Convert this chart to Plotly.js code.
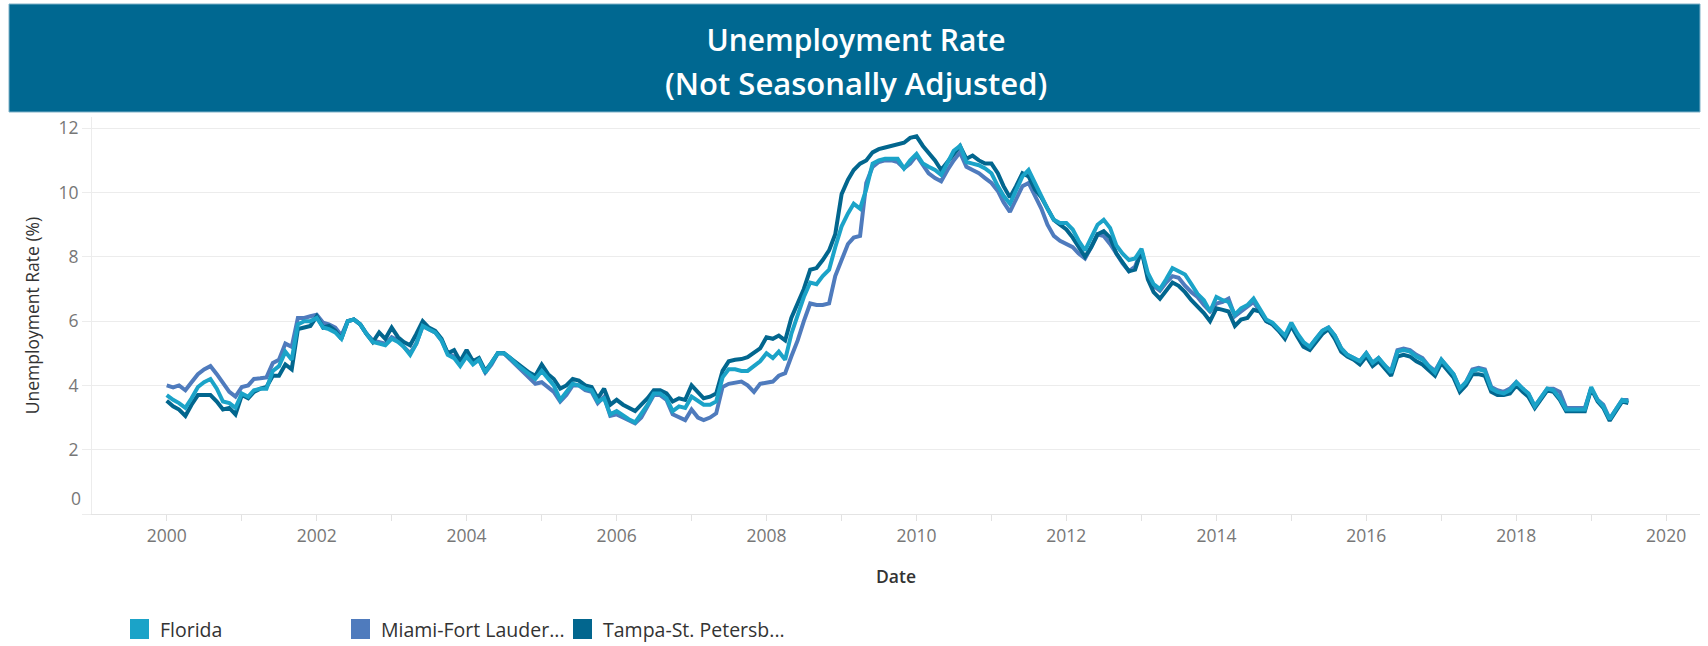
<!DOCTYPE html>
<html>
<head>
<meta charset="utf-8">
<script src="https://cdn.plot.ly/plotly-3.0.1.min.js"></script>
<style>
  html, body { margin: 0; padding: 0; background: #ffffff; }
  #chart { width: 1708px; height: 646px; }
</style>
</head>
<body>
<div id="chart"></div>
<script>
// ---------------- DATA ----------------
const startYear = 2000;
const monthCount = 235; // Jan 2000 .. Jul 2019

const seriesNames = ["Florida", "Miami-Fort Lauderdale-West Palm Beach", "Tampa-St. Petersburg-Clearwater"];
const legendLabels = ["Florida", "Miami-Fort Lauder...", "Tampa-St. Petersb..."];

const florida = [
  3.7, 3.55, 3.45, 3.3, 3.6, 3.95, 4.1, 4.2, 3.9, 3.5, 3.45, 3.3,
  3.75, 3.65, 3.85, 3.9, 3.9, 4.45, 4.6, 5.05, 4.8, 5.9, 6.0, 6.0,
  6.1, 5.8, 5.75, 5.65, 5.45, 6.0, 6.05, 5.9, 5.6, 5.35, 5.3, 5.25,
  5.45, 5.35, 5.2, 4.95, 5.3, 5.85, 5.75, 5.65, 5.4, 4.95, 4.85, 4.6,
  4.9, 4.65, 4.8, 4.4, 4.7, 5.0, 5.0, 4.85, 4.65, 4.5, 4.35, 4.2,
  4.45, 4.2, 4.0, 3.55, 3.8, 4.05, 4.0, 3.9, 3.85, 3.5, 3.6, 3.1,
  3.2, 3.05, 2.95, 2.85, 3.1, 3.4, 3.75, 3.75, 3.6, 3.2, 3.35, 3.3,
  3.65, 3.5, 3.4, 3.4, 3.5, 4.25, 4.5, 4.5, 4.45, 4.45, 4.6, 4.75,
  5.0, 4.85, 5.05, 4.8, 5.6, 6.2, 6.75, 7.2, 7.15, 7.4, 7.6, 8.3,
  8.95, 9.35, 9.65, 9.5, 10.1, 10.9, 11.0, 11.05, 11.05, 11.05, 10.75, 11.0,
  11.2, 10.9, 10.8, 10.7, 10.55, 10.9, 11.3, 11.45, 10.95, 10.9, 10.85, 10.75,
  10.6, 10.2, 9.9, 9.65, 10.1, 10.5, 10.7, 10.3, 9.85, 9.5, 9.15, 9.05,
  9.05, 8.85, 8.5, 8.2, 8.6, 9.0, 9.15, 8.9, 8.35, 8.1, 7.9, 7.95,
  8.25, 7.5, 7.15, 7.0, 7.3, 7.65, 7.55, 7.45, 7.15, 6.85, 6.65, 6.3,
  6.75, 6.65, 6.6, 6.2, 6.4, 6.5, 6.7, 6.35, 6.05, 5.95, 5.75, 5.55,
  5.95, 5.6, 5.35, 5.2, 5.45, 5.7, 5.8, 5.55, 5.15, 4.95, 4.85, 4.75,
  5.0, 4.7, 4.85, 4.6, 4.4, 5.05, 5.1, 5.05, 4.9, 4.8, 4.6, 4.4,
  4.8, 4.55, 4.35, 3.9, 4.1, 4.45, 4.5, 4.45, 3.9, 3.8, 3.75, 3.85,
  4.1, 3.9, 3.75, 3.35, 3.6, 3.9, 3.85, 3.6, 3.25, 3.25, 3.25, 3.25,
  3.95, 3.55, 3.35, 2.95, 3.25, 3.55, 3.5
];

const miami = [
  4.0, 3.94, 4.0, 3.85, 4.1, 4.35, 4.5, 4.6, 4.35, 4.1, 3.8, 3.65,
  3.95, 4.0, 4.2, 4.22, 4.25, 4.7, 4.8, 5.3, 5.2, 6.1, 6.1, 6.15,
  6.2, 5.95, 5.9, 5.8, 5.55, 6.0, 6.05, 5.9, 5.6, 5.4, 5.35, 5.3,
  5.5, 5.4, 5.2, 5.0, 5.3, 5.85, 5.75, 5.65, 5.4, 5.0, 4.9, 4.65,
  4.9, 4.7, 4.8, 4.4, 4.65, 5.0, 5.0, 4.8, 4.6, 4.45, 4.25, 4.05,
  4.1, 3.95, 3.8, 3.5, 3.7, 4.0, 4.0, 3.85, 3.8, 3.45, 3.65, 3.05,
  3.1, 3.0, 2.9, 2.82, 3.0, 3.35, 3.7, 3.7, 3.55, 3.1, 3.0, 2.92,
  3.25, 3.0, 2.92, 3.0, 3.13, 3.95, 4.05, 4.1, 4.12, 4.0, 3.8, 4.05,
  4.1, 4.12, 4.3, 4.38, 4.9, 5.4, 6.0, 6.55, 6.5, 6.5, 6.55, 7.4,
  7.9, 8.4, 8.6, 8.65, 10.3, 10.8, 10.95, 11.0, 11.0, 10.95, 10.75, 10.9,
  11.15, 10.85, 10.6, 10.45, 10.35, 10.7, 11.0, 11.25, 10.8, 10.7, 10.6, 10.45,
  10.3, 10.05, 9.7, 9.4, 9.8, 10.2, 10.3, 9.9, 9.5, 9.0, 8.65, 8.5,
  8.4, 8.3, 8.1, 7.95, 8.3, 8.7, 8.65, 8.4, 8.1, 7.8, 7.55, 7.7,
  8.2, 7.4, 7.1, 6.95, 7.2, 7.4, 7.35, 7.1, 6.9, 6.75, 6.5, 6.3,
  6.55, 6.6, 6.7, 6.15, 6.3, 6.45, 6.6, 6.3, 6.0, 5.9, 5.7, 5.5,
  5.9, 5.55, 5.3, 5.2, 5.45, 5.7, 5.8, 5.55, 5.15, 4.95, 4.85, 4.75,
  5.0, 4.7, 4.85, 4.6, 4.45, 5.1, 5.15, 5.1, 4.95, 4.85, 4.6, 4.45,
  4.8, 4.55, 4.35, 3.9, 4.1, 4.5, 4.55, 4.5, 3.95, 3.85, 3.8, 3.9,
  4.1, 3.9, 3.75, 3.35, 3.6, 3.9, 3.9, 3.8, 3.3, 3.3, 3.3, 3.3,
  3.9, 3.55, 3.4, 2.95, 3.25, 3.55, 3.55
];

const tampa = [
  3.52, 3.35, 3.25, 3.05, 3.4, 3.7, 3.7, 3.7, 3.5, 3.25, 3.3, 3.1,
  3.7, 3.6, 3.8, 3.9, 3.95, 4.3, 4.3, 4.65, 4.5, 5.75, 5.8, 5.85,
  6.15, 5.8, 5.85, 5.7, 5.45, 6.0, 6.05, 5.9, 5.6, 5.35, 5.65, 5.45,
  5.8, 5.5, 5.35, 5.25, 5.6, 6.0, 5.8, 5.7, 5.45, 5.0, 5.1, 4.75,
  5.1, 4.75, 4.85, 4.45, 4.7, 5.0, 5.0, 4.85, 4.7, 4.55, 4.4, 4.3,
  4.65, 4.35, 4.2, 3.9, 4.0, 4.2, 4.15, 4.0, 3.95, 3.6, 3.9, 3.4,
  3.55, 3.4, 3.3, 3.2, 3.4, 3.6, 3.85, 3.85, 3.75, 3.5, 3.6, 3.55,
  4.0, 3.8, 3.6, 3.65, 3.75, 4.45, 4.75, 4.8, 4.82, 4.88, 5.0, 5.15,
  5.5, 5.45, 5.55, 5.4, 6.1, 6.6, 7.0, 7.6, 7.65, 7.9, 8.2, 8.7,
  9.95, 10.4, 10.7, 10.9, 11.0, 11.25, 11.35, 11.4, 11.45, 11.5, 11.55, 11.7,
  11.75, 11.45, 11.25, 11.0, 10.7, 10.95, 11.2, 11.45, 11.05, 11.15, 11.0, 10.9,
  10.9, 10.6, 10.2, 9.85, 10.2, 10.6, 10.5, 10.1, 9.85, 9.5, 9.15, 9.0,
  8.85, 8.6, 8.3, 8.0, 8.3, 8.7, 8.8, 8.6, 8.1, 7.85, 7.55, 7.6,
  8.2, 7.3, 6.9, 6.7, 6.95, 7.2, 7.1, 6.9, 6.65, 6.45, 6.25, 6.0,
  6.4, 6.35, 6.3, 5.85, 6.05, 6.1, 6.35, 6.3, 6.0, 5.9, 5.7, 5.45,
  5.85, 5.5, 5.2, 5.1, 5.35, 5.6, 5.75, 5.45, 5.05, 4.9, 4.8, 4.65,
  4.9, 4.6, 4.75, 4.5, 4.3, 4.9, 4.95, 4.9, 4.75, 4.65, 4.45, 4.3,
  4.7, 4.45, 4.25, 3.8, 4.0, 4.35, 4.35, 4.3, 3.8, 3.7, 3.7, 3.75,
  4.0, 3.8, 3.65, 3.3, 3.55, 3.85, 3.8, 3.55, 3.2, 3.2, 3.2, 3.2,
  3.9, 3.5, 3.3, 2.9, 3.2, 3.5, 3.45
];

const yTickVals = [0, 2, 4, 6, 8, 10, 12];
const xTickYears = [2000, 2002, 2004, 2006, 2008, 2010, 2012, 2014, 2016, 2018, 2020];

// month dates (categories of the x axis)
const months = [];
for (let i = 0; i < monthCount; i++) {
  const y = startYear + Math.floor(i / 12);
  const m = (i % 12) + 1;
  months.push(y + "-" + (m < 10 ? "0" + m : m) + "-01");
}

// ---------------- STYLE ----------------
const colors = { florida: "#1ba3c8", miami: "#4f7bbd", tampa: "#02668e" };
const W = 1708, H = 646;
const plotL = 92, plotR = 1700, plotT = 117, plotB = 514;
const pw = plotR - plotL, ph = plotB - plotT;
const px = v => (v - plotL) / pw;     // pixel x -> paper
const py = v => (plotB - v) / ph;     // pixel y -> paper
const font = "Open Sans, Noto Sans, sans-serif";

const mk = (name, y, color) => ({
  type: "scatter", mode: "lines", name: name, x: months, y: y,
  line: { color: color, width: 4 }, hoverinfo: "x+y+name"
});

const traces = [
  mk(seriesNames[1], miami, colors.miami),
  mk(seriesNames[2], tampa, colors.tampa),
  mk(seriesNames[0], florida, colors.florida)
];

const legendItems = [
  { label: legendLabels[0], color: colors.florida, x: 130 },
  { label: legendLabels[1], color: colors.miami, x: 351 },
  { label: legendLabels[2], color: colors.tampa, x: 573 }
];
const legendY = 629;

const shapes = [
  { type: "rect", xref: "paper", yref: "paper",
    x0: px(9), x1: px(1700), y0: py(112), y1: py(4),
    fillcolor: "#006891", line: { color: "#7fb1c8", width: 1 }, layer: "below" }
];
const annotations = [
  { xref: "paper", yref: "paper", x: px(856), y: py(83), xanchor: "center", yanchor: "middle",
    text: "(Not Seasonally Adjusted)", showarrow: false,
    font: { family: font, size: 31, color: "#ffffff", weight: 600 } },
  { xref: "paper", yref: "paper", x: px(83), y: py(498), xanchor: "right", yanchor: "middle",
    text: "0", showarrow: false, font: { family: font, size: 17.5, color: "#777777" } }
];
legendItems.forEach(it => {
  shapes.push({ type: "rect", xref: "paper", yref: "paper",
    x0: px(it.x), x1: px(it.x + 19), y0: py(legendY + 10), y1: py(legendY - 10),
    fillcolor: it.color, line: { width: 0 } });
  annotations.push({ xref: "paper", yref: "paper", x: px(it.x + 28), y: py(legendY),
    xanchor: "left", yanchor: "middle", text: it.label, showarrow: false,
    font: { family: font, size: 19.5, color: "#333333" } });
});

const layout = {
  width: W, height: H,
  margin: { l: plotL, r: W - plotR, t: plotT, b: H - plotB, pad: 0 },
  paper_bgcolor: "#ffffff", plot_bgcolor: "#ffffff",
  showlegend: false,
  title: {
    text: "Unemployment Rate",
    font: { family: font, size: 30, color: "#ffffff", weight: 600 },
    x: 856 / W, xanchor: "center", xref: "container",
    y: 1 - 40 / H, yanchor: "middle", yref: "container"
  },
  xaxis: {
    type: "date",
    range: ["1999-01-02", "2020-06-14"],
    tickvals: xTickYears.map(y => y + "-01-01"),
    ticktext: xTickYears.map(String),
    ticks: "outside", ticklen: 6, tickcolor: "#e2e2e2", tickwidth: 1,
    minor: { tickvals: xTickYears.map(y => (y - 1) + "-01-01").concat(["2019-01-01"]), ticks: "outside", ticklen: 6, tickcolor: "#e2e2e2", showgrid: false },
    showgrid: false, zeroline: false,
    showline: true, linecolor: "#e4e4e4", linewidth: 1,
    tickfont: { family: font, size: 17.5, color: "#777777" },
    title: { text: "Date", standoff: 24, font: { family: font, size: 17.5, color: "#333333", weight: 600 } },
    fixedrange: true
  },
  yaxis: {
    range: [0, 12.35],
    tickvals: yTickVals,
    ticktext: yTickVals.map(v => v === 0 ? "" : String(v)),
    ticks: "outside", ticklen: 9, tickcolor: "#ececec", tickwidth: 1,
    showgrid: true, gridcolor: "#ececec", gridwidth: 1, zeroline: false,
    showline: true, linecolor: "#ececec", linewidth: 1,
    tickfont: { family: font, size: 17.5, color: "#777777" },
    title: { text: "Unemployment Rate (%)", standoff: 14, font: { family: font, size: 17.5, color: "#333333" } },
    fixedrange: true
  },
  shapes: shapes,
  annotations: annotations
};

Plotly.newPlot("chart", traces, layout, { displayModeBar: false, staticPlot: true });
</script>
</body>
</html>
